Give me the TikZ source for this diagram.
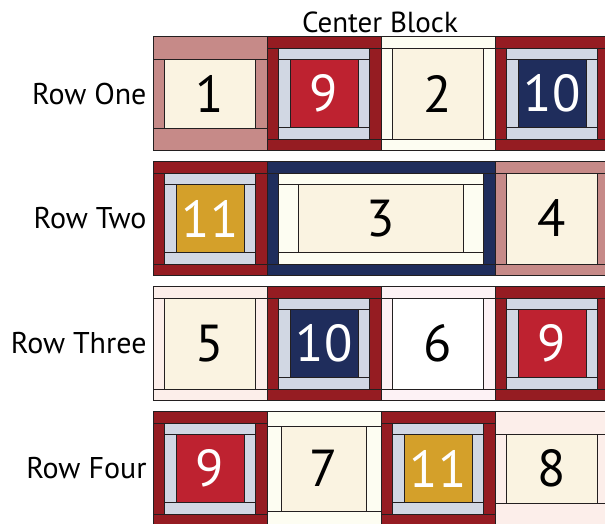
\documentclass[tikz,border=0pt]{standalone}
\usepackage{fontspec}
\setmainfont{PT Sans}
\definecolor{Dusty}{HTML}{C68A88}
\definecolor{Wine}{HTML}{951C22}
\definecolor{Berry}{HTML}{BE2230}
\definecolor{Mist}{HTML}{D1D7E3}
\definecolor{Navy}{HTML}{1F2D5C}
\definecolor{Gold}{HTML}{D4A02A}
\definecolor{Cream}{HTML}{FAF3E1}
\definecolor{Ivory}{HTML}{FDFDF2}
\definecolor{Blush}{HTML}{FCEEEA}
\definecolor{Petal}{HTML}{FDF2F5}
\definecolor{Edge}{HTML}{231F20}
\tikzset{
  patch/.style={draw=Edge, line width=1pt},
  num/.style={font=\fontsize{52}{52}\selectfont},
  rowlab/.style={anchor=east, font=\fontsize{30}{30}\selectfont}
}
% x, y, width, height, top/bottom strip, side strip, colour
\newcommand{\strips}[7]{%
  \filldraw[patch, fill=#7] (#1,#2) rectangle ++(#3,#5);
  \filldraw[patch, fill=#7] (#1,#2+#4-#5) rectangle ++(#3,#5);
  \filldraw[patch, fill=#7] (#1,#2+#5) rectangle ++(#6,#4-2*#5);
  \filldraw[patch, fill=#7] (#1+#3-#6,#2+#5) rectangle ++(#6,#4-2*#5);
}
% name, x, y, top/bottom strip, side strip, border, centre, number
\newcommand{\plainblock}[8]{%
  \strips{#2}{#3}{114}{114}{#4}{#5}{#6}
  \filldraw[patch, fill=#7] (#2+#5,#3+#4) rectangle (#2+114-#5,#3+114-#4);
  \node[num] (#1) at (#2+57,#3+57) {#8};
}
% name, x, y, border, centre, number
\newcommand{\cabin}[6]{%
  \strips{#2}{#3}{114}{114}{11.5}{11.5}{#4}
  \strips{#2+11.5}{#3+11.5}{91}{91}{11.5}{11.5}{Mist}
  \filldraw[patch, fill=#5] (#2+23,#3+23) rectangle ++(68,68);
  \node[num, text=white] (#1) at (#2+57,#3+57) {#6};
}
\begin{document}
\begin{tikzpicture}[x=1pt, y=-1pt]
\clip (0,0) rectangle (605,523);
\fill[white] (0,0) rectangle (605,523);
\node[anchor=base, font=\fontsize{29}{29}\selectfont] (center) at (380,32) {Center Block};

\node[rowlab] (rowone) at (150,93.5) {Row One};
\plainblock{b1}{153}{36.5}{22.5}{11.5}{Dusty}{Cream}{1}
\cabin{b9a}{267}{36.5}{Wine}{Berry}{9}
\plainblock{b2}{381}{36.5}{11.5}{11.5}{Ivory}{Cream}{2}
\cabin{b10a}{495}{36.5}{Wine}{Navy}{10}

\node[rowlab] (rowtwo) at (150,218.5) {Row Two};
\cabin{b11a}{153}{161.5}{Wine}{Gold}{11}
\strips{267}{161.5}{228}{114}{11.5}{11.5}{Navy}
\strips{278.5}{173}{205}{91}{11.5}{20}{Ivory}
\filldraw[patch, fill=Cream] (298.5,184.5) rectangle (463.5,252.5);
\node[num] (b3) at (381,218.5) {3};
\plainblock{b4}{495}{161.5}{11.5}{11.5}{Dusty}{Cream}{4}

\node[rowlab] (rowthree) at (150,343.5) {Row Three};
\plainblock{b5}{153}{286.5}{11.5}{11.5}{Blush}{Cream}{5}
\cabin{b10b}{267}{286.5}{Wine}{Navy}{10}
\plainblock{b6}{381}{286.5}{11.5}{11.5}{Petal}{white}{6}
\cabin{b9b}{495}{286.5}{Wine}{Berry}{9}

\node[rowlab] (rowfour) at (150,468.5) {Row Four};
\cabin{b9c}{153}{411.5}{Wine}{Berry}{9}
\plainblock{b7}{267}{411.5}{14.5}{14.5}{Ivory}{Cream}{7}
\cabin{b11b}{381}{411.5}{Wine}{Gold}{11}
\plainblock{b8}{495}{411.5}{22.5}{11.5}{Blush}{Cream}{8}
\end{tikzpicture}
\end{document}
